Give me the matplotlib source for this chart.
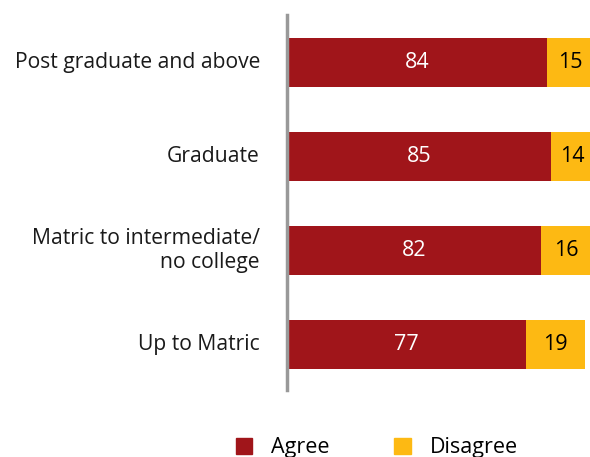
import matplotlib.pyplot as plt
from matplotlib.patches import Patch

categories = ['Post graduate and above', 'Graduate',
              'Matric to intermediate/\nno college', 'Up to Matric']
agree = [84, 85, 82, 77]
disagree = [15, 14, 16, 19]

red = '#A0151A'
yellow = '#FDB913'

W, H = 590, 457
fig = plt.figure(figsize=(W / 100, H / 100), dpi=100)
plt.rcParams['font.family'] = ['Open Sans', 'DejaVu Sans']

# axes from the vertical line (x=288px) to the right edge
ax = fig.add_axes([287 / W, 1 - 390 / H, (W - 287) / W, (390 - 15) / H])
ax.set_xlim(0, (W - 287) / 3.1)
ax.set_ylim(3.48, -0.5)

ypos = range(len(categories))
ax.barh(ypos, agree, height=0.52, color=red, label='Agree')
ax.barh(ypos, disagree, left=agree, height=0.52, color=yellow, label='Disagree')

for y, a, d in zip(ypos, agree, disagree):
    ax.text(a / 2, y, str(a), ha='center', va='center', color='white', fontsize=15.5)
    ax.text(a + d / 2, y, str(d), ha='center', va='center', color='black', fontsize=15.5)
    ax.text(-27 / 3.1, y, categories[y], ha='right', va='center',
            fontsize=15.2, linespacing=1.2, color='#1a1a1a')

for s in ['top', 'right', 'bottom']:
    ax.spines[s].set_visible(False)
ax.spines['left'].set_color('#999999')
ax.spines['left'].set_linewidth(2.5)
ax.set_xticks([])
ax.set_yticks([])

handles = [Patch(color=red), Patch(color=yellow)]
fig.legend(handles, ['Agree', 'Disagree'], loc='center', bbox_to_anchor=(377 / W, 1 - 448 / H),
           ncol=2, frameon=False, fontsize=15.5, handlelength=0.75, handleheight=0.75,
           handletextpad=0.9, columnspacing=3.0)

fig.savefig('out.png', dpi=100)
